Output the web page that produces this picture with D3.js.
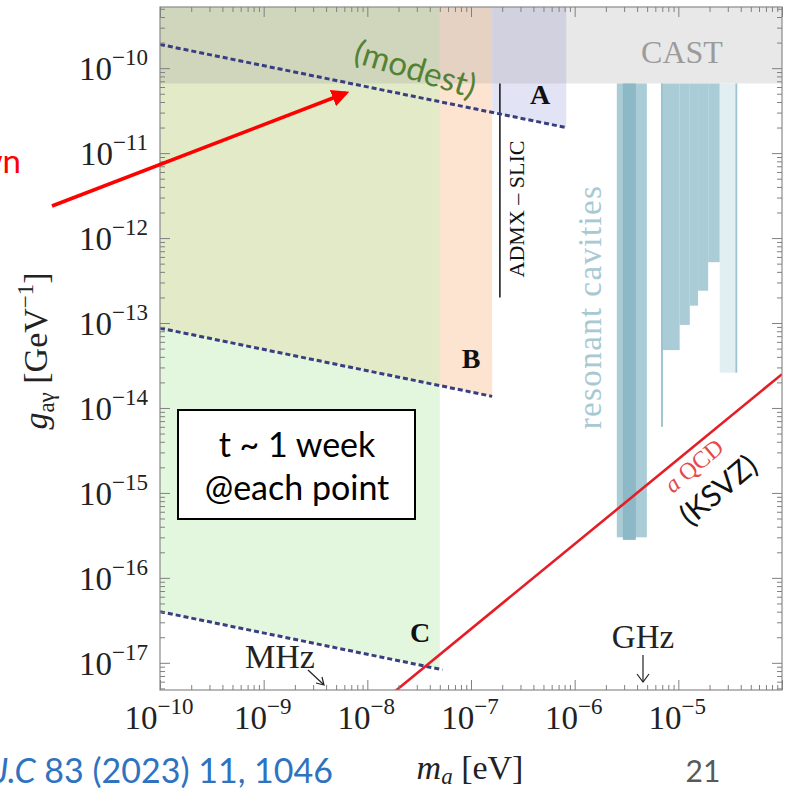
<!DOCTYPE html>
<html>
<head>
<meta charset="utf-8">
<script src="https://cdn.jsdelivr.net/npm/d3@7"></script>
<style>
  html, body { margin: 0; padding: 0; background: #fff; }
  svg { display: block; }
</style>
</head>
<body>
<svg width="788" height="788"></svg>
<script>
// decades labelled on the axes
const massExps = [-10, -9, -8, -7, -6, -5];
const couplingExps = [-10, -11, -12, -13, -14, -15, -16, -17];

// projected sensitivities (dashed lines)
const projNames = ['A', 'B', 'C'];
const projMassStart = [1e-10, 1e-10, 1e-10];
const projMassEnd = [8.3e-7, 1.6e-7, 5.3e-8];
const projGStart = [1.9e-10, 8.7e-14, 4.0e-17];
const projGEnd = [2.0e-11, 1.37e-14, 8.3e-18];

// shaded reach of each setup
const fillMassLo = [1.6e-7, 1e-10, 1e-10];
const fillMassHi = [8.3e-7, 1.6e-7, 5.0e-8];
const fillGAtLo = [3.0e-11, 8.7e-14, 4.0e-17];
const fillGAtHi = [2.0e-11, 1.37e-14, 8.5e-18];

// existing limits
const castLimit = 6.6e-11;
const admxMass = 1.9e-7;
const admxG = [6.6e-11, 2.0e-13];

// resonant cavity exclusions
const cavityMassLo = [2.55e-6, 2.92e-6, 6.9e-6, 1.03e-5, 1.29e-5, 1.55e-5, 1.94e-5, 6.8e-6, 2.51e-5, 3.55e-5];
const cavityMassHi = [4.97e-6, 3.89e-6, 1.03e-5, 1.29e-5, 1.55e-5, 1.94e-5, 2.51e-5, 7.1e-6, 3.55e-5, 3.7e-5];
const cavityGLow = [3.0e-16, 2.8e-16, 4.8e-14, 9.5e-14, 1.6e-13, 2.4e-13, 5.2e-13, 6.0e-15, 2.6e-14, 2.6e-14];
const cavityKind = ['band', 'core', 'band', 'band', 'band', 'band', 'band', 'edge', 'pale', 'edge'];

// QCD axion (KSVZ) line
const ksvzMass = [1e-8, 1e-4];
const ksvzG = [2.5e-18, 2.5e-14];

const svg = d3.select('svg');
const serif = "'Liberation Serif', 'DejaVu Serif', serif";
const sans = "Lato, 'Open Sans', sans-serif";

const plot = { left: 160, right: 782, top: 7, bottom: 690 };

const x = d3.scaleLog().domain([1e-10, 1e-4]).range([plot.left, plot.right]);
const y = d3.scaleLog().domain([Math.pow(10, -17.32), Math.pow(10, -9.28)]).range([plot.bottom, plot.top]);
const gTop = y.domain()[1];

svg.append('defs').append('clipPath').attr('id', 'clip')
  .append('rect')
    .attr('x', plot.left).attr('y', plot.top)
    .attr('width', plot.right - plot.left).attr('height', plot.bottom - plot.top);

svg.append('defs').append('marker')
    .attr('id', 'head')
    .attr('viewBox', '0 0 10 10')
    .attr('refX', 8).attr('refY', 5)
    .attr('markerWidth', 5).attr('markerHeight', 5)
    .attr('orient', 'auto')
  .append('path')
    .attr('d', 'M0,0 L10,5 L0,10 z')
    .attr('fill', '#ff0000');

const g = svg.append('g').attr('clip-path', 'url(#clip)');

// regions: B first, C translucent on top, A separate
const fillColor = { A: '#e3e3f6', B: '#fde4d1', C: 'rgba(200,240,192,0.5)' };
const fillOrder = [1, 2, 0];
const area = i => {
  const pts = [
    [fillMassLo[i], gTop], [fillMassHi[i], gTop],
    [fillMassHi[i], fillGAtHi[i]], [fillMassLo[i], fillGAtLo[i]]
  ];
  return 'M' + pts.map(p => [x(p[0]), y(p[1])].join(',')).join('L') + 'Z';
};
g.selectAll('path.reach').data(fillOrder).join('path')
    .attr('class', 'reach')
    .attr('d', area)
    .attr('fill', i => fillColor[projNames[i]]);

// CAST band
g.append('rect')
    .attr('x', plot.left).attr('y', y(gTop))
    .attr('width', plot.right - plot.left)
    .attr('height', y(castLimit) - y(gTop))
    .attr('fill', '#808080').attr('fill-opacity', 0.18);

// resonant cavities
const cavityColor = { band: '#a9ccd6', core: '#8cb9c5', edge: '#9cc3ce', pale: '#e2eff2' };
g.selectAll('rect.cavity').data(d3.range(cavityMassLo.length)).join('rect')
    .attr('class', 'cavity')
    .attr('x', i => x(cavityMassLo[i]))
    .attr('width', i => x(cavityMassHi[i]) - x(cavityMassLo[i]))
    .attr('y', y(castLimit))
    .attr('height', i => y(cavityGLow[i]) - y(castLimit))
    .attr('fill', i => cavityColor[cavityKind[i]]);

// ADMX-SLIC
g.append('line')
    .attr('x1', x(admxMass)).attr('x2', x(admxMass))
    .attr('y1', y(admxG[0])).attr('y2', y(admxG[1]))
    .attr('stroke', '#111').attr('stroke-width', 1.5);

// dashed projections
g.selectAll('line.proj').data(d3.range(projNames.length)).join('line')
    .attr('class', 'proj')
    .attr('x1', i => x(projMassStart[i])).attr('y1', i => y(projGStart[i]))
    .attr('x2', i => x(projMassEnd[i])).attr('y2', i => y(projGEnd[i]))
    .attr('stroke', '#383e80')
    .attr('stroke-width', 3)
    .attr('stroke-dasharray', '5,3');

// KSVZ
g.append('line')
    .attr('x1', x(ksvzMass[0])).attr('y1', y(ksvzG[0]))
    .attr('x2', x(ksvzMass[1])).attr('y2', y(ksvzG[1]))
    .attr('stroke', '#e41e26').attr('stroke-width', 2.6);

// frame and ticks
svg.append('rect')
    .attr('x', plot.left).attr('y', plot.top)
    .attr('width', plot.right - plot.left).attr('height', plot.bottom - plot.top)
    .attr('fill', 'none').attr('stroke', '#8a8a8a').attr('stroke-width', 1.2);

const isMajor = v => Math.abs(Math.log10(v) - Math.round(Math.log10(v))) < 1e-6;
const xt = x.ticks(), yt = y.ticks();

const tickAxis = (axisFn, scale, tr, vals, size) => {
  svg.append('g').attr('transform', tr)
    .call(axisFn(scale).tickValues(vals).tickSize(size).tickFormat(''))
    .call(a => a.select('.domain').remove())
    .call(a => a.selectAll('line').attr('stroke', '#808080').attr('stroke-width', 1));
};
[[d3.axisBottom, x, `translate(0,${plot.bottom})`, xt],
 [d3.axisTop, x, `translate(0,${plot.top})`, xt],
 [d3.axisLeft, y, `translate(${plot.left},0)`, yt],
 [d3.axisRight, y, `translate(${plot.right},0)`, yt]].forEach(([fn, sc, tr, vals]) => {
  tickAxis(fn, sc, tr, vals.filter(isMajor), -10);
  tickAxis(fn, sc, tr, vals.filter(v => !isMajor(v)), -5);
});

// tick labels 10^n
const power = (sel) => {
  sel.append('tspan').text('10');
  sel.append('tspan').attr('dy', -15).attr('font-size', 23).text(d => '\u2212' + Math.abs(d));
};
svg.append('g').selectAll('text').data(massExps).join('text')
    .attr('x', d => x(Math.pow(10, d)) - 1)
    .attr('y', 729)
    .attr('text-anchor', 'middle')
    .attr('font-family', serif).attr('font-size', 33).attr('fill', '#222')
    .call(power);
svg.append('g').selectAll('text').data(couplingExps).join('text')
    .attr('x', 148)
    .attr('y', d => y(Math.pow(10, d)) + 12)
    .attr('text-anchor', 'end')
    .attr('font-family', serif).attr('font-size', 33).attr('fill', '#222')
    .call(power);

// axis titles
const yTitle = svg.append('text')
    .attr('transform', 'translate(47,351) rotate(-90)')
    .attr('text-anchor', 'middle')
    .attr('font-family', serif).attr('font-size', 34).attr('fill', '#222');
yTitle.append('tspan').attr('font-style', 'italic').text('g');
yTitle.append('tspan').attr('dy', 7).attr('font-size', 23).text('a\u03b3');
yTitle.append('tspan').attr('dy', -7).text(' [GeV');
yTitle.append('tspan').attr('dy', -14).attr('font-size', 23).text('\u22121');
yTitle.append('tspan').attr('dy', 14).text(']');

const xTitle = svg.append('text')
    .attr('x', 470).attr('y', 779)
    .attr('text-anchor', 'middle')
    .attr('font-family', serif).attr('font-size', 34).attr('fill', '#222');
xTitle.append('tspan').attr('font-style', 'italic').text('m');
xTitle.append('tspan').attr('dy', 5).attr('font-size', 23).attr('font-style', 'italic').text('a');
xTitle.append('tspan').attr('dy', -5).text(' [eV]');

// in-plot labels
svg.append('text')
    .attr('x', 682).attr('y', 63)
    .attr('text-anchor', 'middle')
    .attr('font-family', serif).attr('font-size', 32).attr('fill', '#9b9b9b')
    .text('CAST');

const labelPos = { A: [540, 104], B: [471, 368], C: [420, 642] };
svg.selectAll('text.reg').data(projNames).join('text')
    .attr('class', 'reg')
    .attr('x', d => labelPos[d][0]).attr('y', d => labelPos[d][1])
    .attr('text-anchor', 'middle')
    .attr('font-family', serif).attr('font-size', 28).attr('font-weight', 'bold').attr('fill', '#111')
    .text(d => d);

svg.append('text')
    .attr('transform', 'translate(524,209) rotate(-90)')
    .attr('text-anchor', 'middle')
    .attr('font-family', serif).attr('font-size', 22).attr('fill', '#111')
    .text('ADMX \u2013 SLIC');

svg.append('text')
    .attr('transform', 'translate(601,307) rotate(-90)')
    .attr('text-anchor', 'middle')
    .attr('font-family', serif).attr('font-size', 33).attr('letter-spacing', 1.4)
    .attr('fill', '#a7c9d2')
    .text('resonant cavities');

const qcd = svg.append('text')
    .attr('transform', 'translate(699,472) rotate(-40)')
    .attr('text-anchor', 'middle')
    .attr('font-family', serif).attr('font-size', 24).attr('fill', '#e34a4a');
qcd.append('tspan').attr('font-style', 'italic').text('a');
qcd.append('tspan').text(' QCD');

svg.append('text')
    .attr('transform', 'translate(725,498) rotate(-40)')
    .attr('text-anchor', 'middle')
    .attr('font-family', sans).attr('font-size', 30).attr('fill', '#111')
    .text('(KSVZ)');

svg.append('text')
    .attr('x', 280).attr('y', 668)
    .attr('text-anchor', 'middle')
    .attr('font-family', serif).attr('font-size', 34).attr('fill', '#222')
    .text('MHz');
svg.append('line')
    .attr('x1', 308).attr('y1', 670).attr('x2', 323).attr('y2', 684)
    .attr('stroke', '#222').attr('stroke-width', 1.2);
svg.append('path')
    .attr('d', 'M316,683 L324,685 L322,677')
    .attr('fill', 'none').attr('stroke', '#222').attr('stroke-width', 1.2);

svg.append('text')
    .attr('x', 643).attr('y', 648)
    .attr('text-anchor', 'middle')
    .attr('font-family', serif).attr('font-size', 33).attr('fill', '#222')
    .text('GHz');
svg.append('line')
    .attr('x1', 643).attr('y1', 655).attr('x2', 643).attr('y2', 681)
    .attr('stroke', '#222').attr('stroke-width', 1.2);
svg.append('path')
    .attr('d', 'M637,674 L643,682 L649,674')
    .attr('fill', 'none').attr('stroke', '#222').attr('stroke-width', 1.2);

// slide annotations
svg.append('rect')
    .attr('x', 178).attr('y', 410).attr('width', 237).attr('height', 109)
    .attr('fill', '#fff').attr('stroke', '#000').attr('stroke-width', 2);
svg.append('text')
    .attr('x', 297).attr('y', 457)
    .attr('text-anchor', 'middle')
    .attr('font-family', sans).attr('font-size', 34).attr('fill', '#000')
    .text('t ~ 1 week');
svg.append('text')
    .attr('x', 297).attr('y', 500)
    .attr('text-anchor', 'middle')
    .attr('font-family', sans).attr('font-size', 34).attr('fill', '#000')
    .text('@each point');

svg.append('text')
    .attr('transform', 'translate(412,80) rotate(17)')
    .attr('text-anchor', 'middle')
    .attr('font-family', sans).attr('font-size', 33).attr('fill', '#548235')
    .text('(modest)');

svg.append('line')
    .attr('x1', 52).attr('y1', 206).attr('x2', 346).attr('y2', 93)
    .attr('stroke', '#ff0000').attr('stroke-width', 3.5)
    .attr('marker-end', 'url(#head)');

svg.append('text')
    .attr('x', 21).attr('y', 173)
    .attr('text-anchor', 'end')
    .attr('font-family', sans).attr('font-size', 33).attr('fill', '#ff0000')
    .text('shown');

const ref = svg.append('text')
    .attr('x', 333).attr('y', 783)
    .attr('text-anchor', 'end')
    .attr('font-family', sans).attr('font-size', 34).attr('fill', '#2f73c0');
ref.append('tspan').attr('font-style', 'italic').text('Eur. Phys. J.C');
ref.append('tspan').text(' 83 (2023) 11, 1046');

svg.append('text')
    .attr('x', 703).attr('y', 782)
    .attr('text-anchor', 'middle')
    .attr('font-family', sans).attr('font-size', 30).attr('fill', '#595959')
    .text('21');
</script>
</body>
</html>
